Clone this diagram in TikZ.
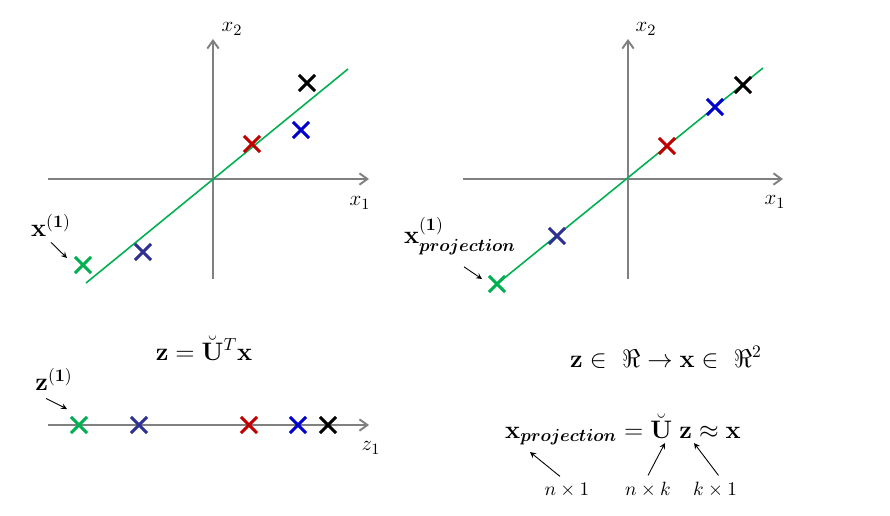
\documentclass[tikz,border=0pt]{standalone}
\usepackage{amsmath,bm}
\usetikzlibrary{shapes.misc,arrows.meta}
\definecolor{axisgray}{RGB}{128,128,128}
\definecolor{ptgreen}{RGB}{0,176,80}
\definecolor{ptnavy}{RGB}{46,49,146}
\definecolor{ptblue}{RGB}{0,0,204}
\definecolor{ptred}{RGB}{192,0,0}
\begin{document}
\begin{tikzpicture}[x=0.02cm, y=-0.02cm, >=stealth, line join=round,
	axis/.style={draw=axisgray, line width=1.1pt, -{Straight Barb[length=4.5pt,width=6.5pt]}},
	fitline/.style={draw=ptgreen, line width=0.9pt},
	pt/.style={cross out, draw, line width=1.7pt, minimum size=7.5pt, inner sep=0pt},
	pointer/.style={->, line width=0.5pt},
	big/.style={font=\fontsize{14.5}{17}\selectfont},
	lbl/.style={font=\fontsize{13}{15}\selectfont},
	dim/.style={font=\fontsize{11}{13}\selectfont, anchor=base}]
	\useasboundingbox (0,0) rectangle (890,515);
	% left plot: data in x1-x2
	\coordinate (lW) at (48,179); \coordinate (lE) at (369,179);
	\coordinate (lS) at (213,279); \coordinate (lN) at (213,39);
	\draw[axis] (lW) -- (lE);
	\draw[axis] (lS) -- (lN);
	\node[lbl] (lx1) at (360,203) {$x_1$};
	\node[lbl] (lx2) at (232,29) {$x_2$};
	\coordinate (lA) at (86,283); \coordinate (lB) at (348,69);
	\draw[fitline] (lA) -- (lB);
	\node[pt, ptgreen] (lg) at (83,265) {};
	\node[pt, ptnavy] (ln) at (143,252) {};
	\node[pt, ptred] (lr) at (252,144) {};
	\node[pt, ptblue] (lb) at (301,130) {};
	\node[pt, black] (lk) at (307,83) {};
	\node[big] (lbx) at (51,225) {$\mathbf{x}^{(\mathbf{1})}$};
	\coordinate (lgp) at (67,258);
	\draw[pointer] (lbx.south) -- (lgp);
	% right plot: projections
	\coordinate (rW) at (463,179); \coordinate (rE) at (783,179);
	\coordinate (rS) at (628,279); \coordinate (rN) at (628,39);
	\draw[axis] (rW) -- (rE);
	\draw[axis] (rS) -- (rN);
	\node[lbl] (rx1) at (775,202) {$x_1$};
	\node[lbl] (rx2) at (646,29) {$x_2$};
	\coordinate (rA) at (497,284); \coordinate (rB) at (763,68);
	\draw[fitline] (rA) -- (rB);
	\node[pt, ptgreen] (rg) at (497,284) {};
	\node[pt, ptnavy] (rn) at (557,236) {};
	\node[pt, ptred] (rr) at (667,146) {};
	\node[pt, ptblue] (rb) at (715,107) {};
	\node[pt, black] (rk) at (743,85) {};
	\node[big] (rbx) at (460,236) {$\mathbf{x}^{(\mathbf{1})}_{\bm{projection}}$};
	\coordinate (rgp) at (482,279);
	\draw[pointer] ([shift={(4,6)}]rbx.south) -- (rgp);
	% bottom left: z1 line
	\coordinate (zW) at (48,425); \coordinate (zE) at (369,425);
	\draw[axis] (zW) -- (zE);
	\node[lbl] (zl) at (371,448) {$z_1$};
	\node[pt, ptgreen] (zg) at (79,425) {};
	\node[pt, ptnavy] (zn) at (139,425) {};
	\node[pt, ptred] (zr) at (249,425) {};
	\node[pt, ptblue] (zb) at (298,425) {};
	\node[pt, black] (zk) at (328,425) {};
	\node[big, anchor=base] (eqz) at (204,360) {$\mathbf{z} = \breve{\mathbf{U}}^T\mathbf{x}$};
	\node[big] (zbz) at (54,379) {$\mathbf{z}^{(\mathbf{1})}$};
	\coordinate (zgp) at (67,409);
	\draw[pointer] ([shift={(-8,2)}]zbz.south) -- (zgp);
	% bottom right: reconstruction
	\node[big, anchor=base] (eqr) at (666,367) {$\mathbf{z} \in\ \Re \rightarrow \mathbf{x} \in\ \Re^2$};
	\node[big, anchor=base] (eqx) at (623,438) {$\mathbf{x}_{\bm{projection}} = \breve{\mathbf{U}}\;\mathbf{z} \approx \mathbf{x}$};
	\node[dim] (d1) at (567,495) {$n\times 1$};
	\node[dim] (d2) at (648,495) {$n\times k$};
	\node[dim] (d3) at (715,495) {$k\times 1$};
	\coordinate (pj) at (530,452); \coordinate (pu) at (665,443); \coordinate (pz) at (694,443);
	\draw[pointer] ([xshift=-4]d1.north) -- (pj);
	\draw[pointer] (d2.north) -- (pu);
	\draw[pointer] ([xshift=2]d3.north) -- (pz);
\end{tikzpicture}
\end{document}
